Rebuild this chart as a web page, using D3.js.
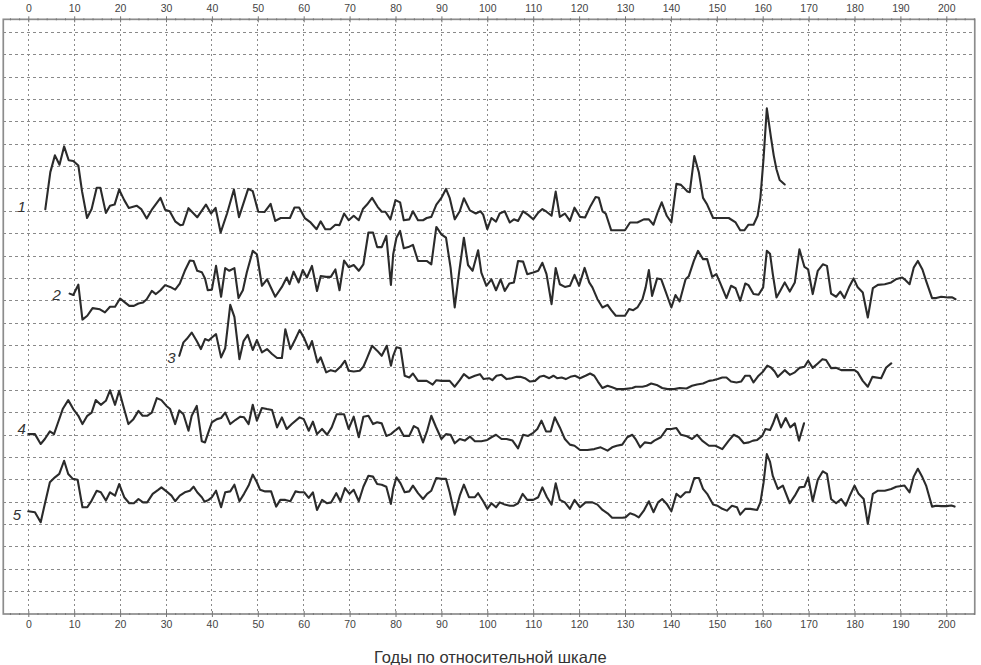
<!DOCTYPE html>
<html>
<head>
<meta charset="utf-8">
<script src="https://cdn.jsdelivr.net/npm/d3@7/dist/d3.min.js"></script>
<style>
  html, body { margin: 0; padding: 0; background: #fff; }
  svg { display: block; }
</style>
</head>
<body>
<svg id="chart" width="981" height="665"></svg>
<script>
// ---------- DATA (relative years, index value in grid units) ----------
const xTickValues = d3.range(0, 201, 10);
const xMinorTicks = d3.range(-4, 207, 2);
const gridRows = d3.range(1, 27);
const seriesNames = ["1", "2", "3", "4", "5"];
const axisTitle = "Годы по относительной шкале";

const series1 = [[3.7,18.09],[4.8,19.75],[5.8,20.5],[6.8,20.08],[7.8,20.9],[8.8,20.28],[9.8,20.25],[10.9,20.05],[11.7,18.9],[12.8,17.7],[13.8,18.1],[14.9,19.05],[15.7,19.05],[16.9,17.93],[17.8,18.25],[18.8,18.3],[19.8,18.97],[20.9,18.5],[21.9,18.15],[23.6,18.25],[24.6,18.1],[25.8,17.68],[27.0,18.1],[28.8,18.6],[29.8,18.07],[30.8,18.0],[32.0,17.55],[33.1,17.38],[33.7,17.4],[34.9,18.14],[35.8,17.95],[36.8,17.73],[38.7,18.3],[39.8,17.9],[40.8,18.15],[41.9,17.05],[43.3,17.9],[44.8,18.97],[45.9,17.74],[47.9,19.0],[48.9,18.9],[50.1,17.98],[51.5,17.97],[52.8,18.33],[53.8,17.57],[55.0,17.7],[57.0,17.7],[58.0,18.17],[59.0,18.17],[60.3,17.68],[61.5,17.5],[62.8,17.2],[63.7,17.55],[64.7,17.2],[65.8,17.2],[66.9,17.4],[67.8,17.38],[68.8,17.9],[69.8,17.6],[70.9,17.8],[72.0,17.6],[72.9,18.1],[73.8,18.3],[74.9,18.6],[76.1,18.2],[77.0,17.98],[77.8,17.98],[78.9,17.64],[80.0,18.5],[81.0,18.4],[81.8,17.6],[83.0,17.64],[83.8,18.0],[84.9,17.6],[86.0,17.6],[86.8,17.7],[87.8,17.75],[88.9,18.3],[90.0,18.6],[91.0,19.0],[91.8,18.6],[92.9,17.64],[94.0,18.0],[94.9,18.58],[96.2,18.04],[97.5,17.9],[98.5,18.0],[99.1,17.85],[100.0,17.2],[100.9,17.7],[101.9,17.54],[102.7,17.9],[103.8,18.0],[104.9,17.5],[105.8,17.64],[106.7,17.57],[107.8,18.0],[108.9,17.84],[110.0,17.64],[111.1,17.94],[112.0,18.1],[112.9,17.98],[114.0,17.8],[114.9,18.88],[115.8,17.75],[116.9,17.9],[118.0,17.57],[119.0,18.16],[120.2,17.75],[121.3,17.72],[122.5,18.24],[123.6,18.64],[124.3,18.6],[125.1,18.0],[125.8,17.9],[127.0,17.15],[130.0,17.15],[131.1,17.5],[132.7,17.5],[134.1,17.64],[135.2,17.64],[136.2,17.4],[137.2,18.0],[138.0,18.4],[139.1,17.8],[140.1,17.5],[141.2,19.23],[142.2,19.18],[143.6,18.88],[144.1,18.85],[145.1,20.47],[146.1,19.73],[147.0,18.6],[147.9,18.3],[149.2,17.7],[152.6,17.7],[154.1,17.5],[155.1,17.15],[156.0,17.15],[156.9,17.4],[158.0,17.4],[158.9,17.8],[159.5,18.6],[160.2,20.4],[160.9,22.6],[161.8,21.3],[162.4,20.5],[163.0,19.88],[163.7,19.4],[164.8,19.2]];

const series2 = [[9.0,14.32],[9.8,14.26],[10.9,14.72],[11.8,13.16],[12.85,13.33],[14.0,13.67],[15.6,13.62],[16.7,13.48],[17.8,13.73],[18.9,13.73],[20.0,14.1],[21.1,13.92],[22.0,13.77],[23.0,13.77],[24.0,13.88],[25.0,13.92],[25.8,14.07],[26.9,14.44],[27.8,14.3],[28.8,14.47],[29.8,14.7],[30.9,14.62],[32.0,14.5],[33.0,14.77],[34.1,15.34],[35.2,15.8],[36.0,15.78],[36.8,15.34],[37.8,15.28],[38.5,15.0],[39.1,14.47],[40.0,14.5],[40.9,15.56],[42.0,14.18],[42.9,15.46],[43.8,15.34],[44.9,15.46],[45.8,14.12],[46.75,14.47],[47.6,15.26],[48.9,16.23],[49.8,16.08],[50.9,14.67],[52.0,14.96],[53.8,14.18],[55.25,14.62],[56.3,15.04],[56.9,14.74],[57.8,15.3],[58.9,14.82],[59.8,15.37],[60.7,15.04],[61.8,15.56],[62.9,14.44],[63.7,15.1],[64.9,15.07],[65.9,15.07],[66.9,15.4],[67.8,14.47],[68.8,15.8],[69.8,15.5],[70.9,15.6],[72.0,15.34],[73.0,15.63],[74.1,17.05],[75.1,17.05],[76.0,16.4],[77.0,16.4],[78.0,16.9],[79.0,14.71],[79.5,16.08],[80.2,16.82],[81.0,17.12],[81.8,16.35],[82.8,16.4],[83.8,16.5],[84.9,15.78],[86.8,15.78],[87.8,15.63],[88.9,17.3],[90.0,16.97],[91.0,16.82],[92.0,15.48],[92.9,13.7],[93.9,15.34],[94.9,16.82],[95.8,15.6],[96.8,15.34],[98.0,16.26],[98.7,15.26],[99.8,14.67],[100.9,14.96],[101.9,14.47],[102.9,14.96],[103.8,14.44],[104.8,14.77],[105.8,14.82],[106.7,15.78],[107.8,15.75],[108.7,15.19],[110.0,15.26],[111.1,15.34],[112.0,15.7],[112.9,15.19],[114.0,13.85],[114.9,15.46],[115.8,14.74],[116.9,14.62],[118.0,14.67],[119.0,15.16],[120.0,14.67],[121.2,15.47],[122.2,14.82],[122.9,14.6],[124.0,14.07],[125.1,13.7],[126.2,13.82],[127.0,13.58],[128.0,13.33],[130.0,13.33],[130.9,13.63],[131.8,13.58],[132.7,13.7],[133.8,14.07],[134.5,14.6],[135.2,15.37],[135.9,14.22],[137.0,15.0],[137.9,14.96],[138.8,14.44],[140.1,13.7],[141.0,14.26],[141.9,13.97],[143.2,14.96],[143.9,15.1],[145.0,15.78],[145.9,16.23],[147.0,15.86],[147.9,15.86],[149.0,15.07],[149.9,15.19],[150.8,14.77],[152.1,14.12],[153.1,14.67],[154.1,14.56],[155.1,14.0],[156.2,14.77],[156.9,14.7],[158.0,14.3],[159.1,14.27],[160.1,14.6],[160.9,16.23],[161.6,16.1],[162.2,15.19],[163.0,14.15],[163.8,14.44],[164.8,14.82],[165.9,14.41],[167.0,14.82],[168.0,16.3],[169.1,15.51],[169.9,15.4],[170.9,14.3],[172.0,15.34],[173.1,15.63],[174.0,15.56],[174.9,14.32],[176.0,14.18],[176.9,14.41],[177.8,14.12],[178.8,14.6],[179.8,15.0],[180.7,14.6],[181.8,14.37],[182.9,13.25],[184.0,14.56],[185.1,14.71],[186.6,14.74],[188.0,14.82],[189.0,14.96],[190.4,15.04],[190.9,14.96],[192.0,14.74],[192.9,15.48],[193.8,15.78],[194.8,15.4],[195.6,14.89],[196.9,14.12],[197.8,14.12],[198.9,14.18],[200.4,14.15],[201.3,14.15],[202.0,14.07]];

const series3 = [[32.9,11.54],[33.8,12.14],[34.5,12.29],[35.6,12.58],[36.7,12.2],[37.6,11.84],[38.5,12.29],[39.3,12.22],[40.0,12.36],[40.9,12.51],[42.0,11.47],[42.9,11.88],[44.0,13.82],[44.9,13.28],[46.0,11.39],[46.9,12.2],[47.8,12.48],[48.9,11.8],[49.8,12.24],[50.9,11.69],[52.0,11.84],[53.1,11.62],[54.2,11.44],[55.25,11.44],[56.0,12.73],[57.1,11.84],[58.2,12.29],[59.1,12.69],[60.1,12.33],[61.1,11.84],[61.8,12.2],[63.0,11.24],[63.7,11.47],[64.9,10.8],[65.9,10.9],[66.9,10.84],[68.0,11.05],[69.0,11.32],[69.8,10.87],[70.9,10.84],[72.2,10.87],[73.0,11.05],[73.8,11.44],[74.9,11.99],[76.0,11.77],[77.0,11.54],[78.1,11.99],[79.0,11.1],[79.5,11.54],[80.2,11.92],[81.1,11.88],[82.0,10.65],[83.0,10.57],[83.8,10.75],[84.9,10.42],[86.8,10.42],[88.1,10.25],[88.9,10.45],[90.0,10.42],[91.8,10.42],[92.9,10.16],[94.0,10.45],[94.9,10.72],[96.0,10.54],[97.3,10.65],[98.4,10.72],[99.2,10.5],[100.4,10.54],[101.1,10.45],[102.0,10.65],[103.1,10.69],[104.2,10.5],[105.3,10.54],[106.4,10.6],[107.2,10.6],[108.2,10.54],[109.3,10.39],[110.4,10.42],[111.4,10.6],[112.3,10.65],[113.5,10.54],[114.4,10.65],[115.2,10.54],[116.2,10.57],[117.1,10.5],[118.1,10.6],[119.1,10.65],[120.2,10.54],[121.4,10.65],[122.4,10.75],[123.3,10.65],[124.1,10.39],[125.1,10.1],[126.2,10.2],[127.2,10.13],[128.3,10.05],[129.8,10.05],[131.6,10.1],[132.3,10.16],[133.8,10.16],[134.7,10.2],[135.7,10.3],[136.9,10.24],[138.1,10.1],[139.3,10.05],[140.7,10.05],[141.9,10.1],[143.4,10.08],[144.6,10.2],[145.7,10.26],[147.0,10.3],[148.3,10.42],[149.2,10.45],[150.2,10.5],[151.2,10.57],[152.1,10.57],[153.1,10.39],[154.3,10.35],[155.3,10.39],[156.2,10.65],[157.2,10.65],[158.0,10.35],[159.1,10.65],[160.1,10.84],[161.0,11.1],[161.8,11.02],[162.6,10.84],[163.3,10.6],[164.8,10.9],[165.9,10.69],[167.0,10.8],[168.0,11.0],[169.1,11.05],[169.9,11.32],[170.9,11.0],[172.0,11.2],[173.0,11.39],[173.8,11.35],[174.9,10.99],[176.0,11.0],[177.1,10.9],[180.0,10.9],[180.7,10.8],[181.8,10.42],[182.9,10.16],[183.9,10.6],[185.8,10.54],[186.9,11.02],[188.0,11.2]];

const series4 = [[0,8.04],[1.45,8.04],[2.7,7.6],[3.6,7.82],[4.7,8.16],[5.6,8.04],[6.5,8.57],[7.5,9.16],[8.7,9.56],[9.8,9.16],[10.9,8.86],[11.8,8.49],[12.85,8.86],[13.8,9.0],[14.7,9.56],[15.8,9.35],[16.9,9.53],[17.8,10.0],[18.9,9.35],[19.8,9.98],[20.7,9.3],[21.8,8.49],[22.9,8.71],[24.0,9.08],[24.9,8.86],[25.9,8.86],[26.9,9.0],[28.0,9.65],[29.0,9.56],[30.1,9.3],[30.9,9.16],[32.0,8.49],[32.9,9.1],[33.8,8.93],[34.9,8.19],[35.6,8.86],[36.7,9.3],[37.8,7.72],[38.5,7.67],[39.1,8.04],[40.0,8.57],[41.1,8.71],[42.0,8.76],[42.9,9.0],[44.0,8.49],[45.1,8.67],[46.2,8.82],[47.0,8.79],[48.0,8.49],[48.9,9.35],[49.8,8.64],[50.9,9.21],[52.0,9.16],[53.1,9.12],[54.2,8.34],[55.25,8.79],[56.3,8.27],[57.4,8.49],[59.1,8.79],[60.0,8.71],[61.1,8.19],[62.0,8.6],[62.9,8.04],[64.0,8.27],[65.1,8.01],[66.1,8.34],[67.2,8.93],[68.8,8.93],[69.8,8.27],[70.9,8.82],[72.0,7.9],[73.0,8.82],[74.1,8.86],[75.1,8.49],[76.0,8.57],[77.0,8.52],[78.0,7.96],[79.0,8.04],[79.9,8.2],[80.8,8.34],[81.8,7.96],[83.0,7.96],[84.0,8.4],[84.9,8.3],[86.0,7.67],[86.9,8.19],[87.8,8.86],[88.8,8.37],[90.0,7.82],[91.0,8.04],[92.0,8.01],[92.9,7.63],[94.0,7.82],[95.1,7.75],[96.2,7.93],[97.3,7.72],[98.7,7.72],[100.0,7.78],[100.9,7.9],[101.9,8.01],[103.1,7.82],[104.2,7.82],[105.5,7.75],[106.7,7.4],[107.8,8.01],[108.9,7.96],[110.0,8.1],[110.9,8.27],[111.8,8.64],[112.8,8.16],[113.8,8.16],[114.7,8.79],[115.8,8.34],[116.9,7.82],[118.0,7.57],[119.0,7.52],[120.2,7.33],[121.8,7.33],[123.3,7.37],[124.7,7.45],[126.2,7.3],[127.2,7.45],[128.2,7.52],[129.4,7.57],[130.5,7.9],[131.6,8.01],[132.3,7.82],[133.3,7.45],[134.3,7.67],[135.6,7.63],[136.4,7.75],[137.8,7.9],[139.1,8.27],[140.1,8.27],[141.2,8.31],[142.2,8.01],[143.3,7.96],[144.6,7.82],[145.7,8.01],[146.8,7.75],[148.3,7.52],[149.7,7.52],[151.2,7.37],[152.6,7.75],[153.7,8.01],[154.8,7.9],[155.9,7.63],[157.0,7.67],[157.9,7.75],[158.8,7.78],[159.9,7.96],[160.6,8.27],[161.6,8.22],[162.2,8.49],[163.0,8.93],[164.0,8.34],[165.0,8.76],[166.0,8.34],[167.0,8.52],[167.9,7.75],[169.0,8.52]];

const series5 = [[0,4.59],[1.45,4.55],[2.7,4.1],[3.6,4.92],[4.7,5.89],[5.8,6.11],[6.75,6.26],[7.8,6.85],[8.7,6.26],[9.7,6.04],[10.75,6.0],[11.8,4.77],[12.85,4.77],[13.8,5.07],[14.9,5.51],[15.8,5.44],[16.9,5.07],[17.8,5.44],[18.9,5.29],[19.8,5.81],[20.9,5.22],[22.0,4.95],[23.0,4.95],[24.0,5.14],[25.0,4.99],[25.9,4.99],[27.1,5.37],[28.3,5.55],[29.0,5.66],[30.1,5.48],[31.2,5.29],[32.0,5.04],[33.0,5.29],[34.1,5.44],[35.2,5.51],[36.0,5.69],[36.8,5.44],[37.8,5.22],[38.4,5.02],[39.3,5.1],[40.0,5.22],[40.9,5.51],[42.0,4.77],[42.9,5.44],[44.0,5.48],[44.9,5.78],[46.0,5.04],[47.0,5.37],[48.0,5.74],[48.9,6.23],[49.8,5.89],[50.5,5.55],[51.6,5.48],[52.9,5.48],[54.0,4.8],[54.9,5.1],[56.0,5.1],[57.1,5.04],[58.2,5.48],[59.1,5.44],[60.1,5.44],[61.1,5.19],[62.0,5.44],[62.9,4.65],[64.0,5.1],[65.1,4.95],[66.0,4.99],[67.1,5.4],[68.0,5.04],[69.0,5.63],[70.0,5.37],[70.9,5.55],[72.0,5.04],[73.0,5.69],[74.1,6.18],[75.1,6.14],[76.0,5.81],[77.0,5.78],[78.0,5.69],[79.0,4.92],[79.5,5.59],[80.2,6.11],[81.1,5.84],[82.0,5.44],[83.0,5.48],[83.8,5.74],[84.9,5.4],[86.0,5.14],[86.9,5.37],[87.8,5.51],[88.9,6.08],[90.0,6.04],[91.0,6.04],[91.8,5.44],[92.9,4.44],[94.0,5.29],[94.9,5.78],[96.0,5.22],[97.3,5.22],[98.0,5.4],[99.1,5.04],[100.0,4.7],[100.9,4.95],[101.9,4.77],[102.7,4.99],[103.8,4.89],[104.9,4.84],[105.8,4.84],[106.7,4.95],[107.7,5.37],[108.7,5.1],[110.0,5.1],[111.1,5.22],[112.0,5.66],[113.0,5.22],[114.0,4.89],[114.9,5.84],[115.8,5.1],[116.9,4.99],[118.0,4.7],[119.0,5.1],[120.2,4.77],[121.4,4.99],[122.9,4.99],[124.0,4.89],[125.1,4.65],[126.2,4.5],[127.2,4.3],[129.4,4.3],[130.1,4.32],[131.1,4.5],[132.0,4.44],[133.0,4.32],[134.1,4.62],[135.2,5.04],[136.2,4.55],[137.2,4.99],[138.1,5.14],[139.1,4.92],[140.1,4.59],[141.2,5.37],[142.1,5.22],[143.2,5.44],[144.1,5.44],[145.1,6.08],[146.1,6.08],[147.0,5.59],[147.9,5.37],[149.2,4.89],[150.1,4.84],[151.2,4.7],[152.2,4.62],[153.3,4.84],[154.4,4.77],[155.1,4.44],[156.2,4.7],[157.3,4.7],[158.8,4.65],[159.5,4.99],[160.2,5.89],[160.9,7.15],[161.6,6.8],[162.2,6.17],[163.3,5.59],[164.4,5.74],[165.9,4.95],[167.0,5.29],[168.0,5.66],[169.1,5.69],[169.9,6.11],[170.9,5.04],[172.0,6.0],[173.1,6.38],[174.0,6.26],[174.9,5.14],[176.0,4.95],[177.1,5.14],[178.1,4.84],[178.9,5.25],[180.0,5.74],[180.9,5.37],[182.0,5.14],[182.9,4.03],[184.0,5.37],[185.1,5.51],[186.6,5.51],[188.0,5.59],[189.1,5.69],[190.9,5.74],[192.0,5.44],[192.9,6.14],[193.8,6.49],[194.8,6.11],[195.6,5.74],[196.9,4.8],[197.8,4.84],[198.9,4.82],[200.0,4.82],[201.1,4.85],[201.8,4.8]];

const allSeries = [series1, series2, series3, series4, series5];

// ---------- LAYOUT ----------
const labelAnchors = [[-1.45, 18.2], [6.2, 14.3], [31.2, 11.45], [-1.45, 8.3], [-2.5, 4.45]];
const frameDomain = { x0: -5.45, x1: 206.2, y0: 0, y1: 26.58 };

const svg = d3.select("#chart");
const x = d3.scaleLinear().domain([0, 200]).range([28.3, 946.3]);
const y = d3.scaleLinear().domain([0, 26]).range([614, 32.3]);

const L = x(frameDomain.x0), R = x(frameDomain.x1);
const T = y(frameDomain.y1), B = y(frameDomain.y0);

const gridColor = "#8a8a8a";

// horizontal grid
svg.append("g").selectAll("line").data(gridRows).join("line")
  .attr("x1", L).attr("x2", R)
  .attr("y1", d => y(d)).attr("y2", d => y(d))
  .attr("stroke", gridColor).attr("stroke-width", 1)
  .attr("stroke-dasharray", "3,3")
  .attr("shape-rendering", "crispEdges");

// vertical grid
svg.append("g").selectAll("line").data(xTickValues).join("line")
  .attr("x1", d => x(d)).attr("x2", d => x(d))
  .attr("y1", T).attr("y2", B)
  .attr("stroke", gridColor).attr("stroke-width", 1)
  .attr("stroke-dasharray", "2,3")
  .attr("shape-rendering", "crispEdges");

// frame
svg.append("rect")
  .attr("x", L).attr("y", T).attr("width", R - L).attr("height", B - T)
  .attr("fill", "none").attr("stroke", "#8c8c8c").attr("stroke-width", 1.7);

// axes (top and bottom)
function drawAxis(gen, ypos) {
  const isTop = gen === d3.axisTop;
  const gMinor = svg.append("g").attr("transform", `translate(0,${ypos})`);
  gMinor.call(gen(x).tickValues(xMinorTicks.filter(d => d % 10 !== 0)).tickSize(2).tickFormat(""));
  gMinor.select(".domain").remove();
  gMinor.selectAll(".tick line").attr("stroke", "#777")
    .attr("transform", isTop ? "translate(0,1)" : "translate(0,-1)");
  const gMajor = svg.append("g").attr("transform", `translate(0,${ypos})`);
  gMajor.call(gen(x).tickValues(xTickValues).tickSize(3).tickPadding(4));
  gMajor.select(".domain").remove();
  gMajor.selectAll(".tick line").attr("stroke", "#777").attr("y1", isTop ? 3 : -3);
  gMajor.selectAll(".tick text")
    .attr("font-family", "'Liberation Sans', Arial, sans-serif")
    .attr("font-size", 10.5).attr("fill", "#444");
}
drawAxis(d3.axisTop, T);
drawAxis(d3.axisBottom, B);

// series lines
const line = d3.line().x(d => x(d[0])).y(d => y(d[1])).curve(d3.curveLinear);
svg.append("g").selectAll("path").data(allSeries).join("path")
  .attr("d", line)
  .attr("fill", "none")
  .attr("stroke", "#2b2b2b")
  .attr("stroke-width", 2.1)
  .attr("stroke-linejoin", "round")
  .attr("stroke-linecap", "round");

// series labels
svg.append("g").selectAll("text").data(seriesNames).join("text")
  .attr("x", (d, i) => x(labelAnchors[i][0]))
  .attr("y", (d, i) => y(labelAnchors[i][1]))
  .attr("text-anchor", "middle")
  .attr("dominant-baseline", "central")
  .attr("font-family", "'Liberation Sans', Arial, sans-serif")
  .attr("font-style", "italic")
  .attr("font-size", 15)
  .attr("fill", "#333")
  .text(d => d);

// axis title
svg.append("text")
  .attr("x", (x(0) + x(200)) / 2 + 3)
  .attr("y", 663)
  .attr("text-anchor", "middle")
  .attr("font-family", "'Liberation Sans', Arial, sans-serif")
  .attr("font-size", 16.5)
  .attr("fill", "#333")
  .text(axisTitle);
</script>
</body>
</html>
